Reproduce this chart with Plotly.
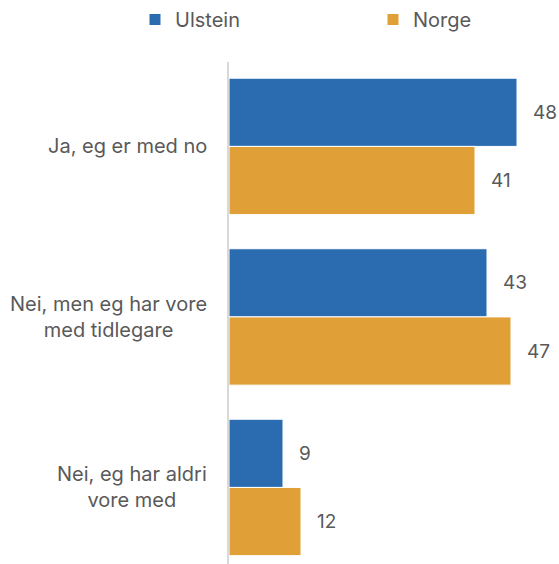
import plotly.graph_objects as go

categories = ["Ja, eg er med no", "Nei, men eg har vore<br>med tidlegare", "Nei, eg har aldri<br>vore med"]
ulstein = [48, 43, 9]
norge = [41, 47, 12]

BLUE = "#2B6CB1"
ORANGE = "#E0A037"
TEXT = "#595959"
FONT = "Inter, Roboto, sans-serif"

fig = go.Figure()
fig.add_trace(go.Bar(y=categories, x=ulstein, name="Ulstein", orientation="h",
                     legend="legend",
                     marker=dict(color=BLUE, line=dict(color="white", width=1))))
fig.add_trace(go.Bar(y=categories, x=norge, name="Norge", orientation="h",
                     legend="legend2",
                     marker=dict(color=ORANGE, line=dict(color="white", width=1))))

# value labels to the right of each bar
for vals, off in ((ulstein, -0.2), (norge, 0.2)):
    for i, v in enumerate(vals):
        fig.add_annotation(x=v, y=i + off, xref="x", yref="y", text=str(v),
                           showarrow=False, xanchor="left", xshift=14,
                           font=dict(size=19, color=TEXT, family=FONT))

# category labels, centred lines, right edge near the axis
for i, c in enumerate(categories):
    fig.add_annotation(x=0, y=i, xref="x", yref="y", text=c, showarrow=False,
                       xanchor="right", align="center", xshift=-20,
                       font=dict(size=20, color=TEXT, family=FONT))

legend_style = dict(orientation="h", xref="container", yref="container",
                    y=1.0, xanchor="left", yanchor="top",
                    font=dict(size=20, color=TEXT, family=FONT),
                    itemclick=False, itemdoubleclick=False)

fig.update_layout(
    width=559, height=564,
    showlegend=True,
    margin=dict(l=229, r=0, t=62, b=0),
    plot_bgcolor="white", paper_bgcolor="white",
    barmode="group", bargap=0.2, bargroupgap=0,
    font=dict(family=FONT, size=18, color=TEXT),
    legend=dict(x=135 / 559, **legend_style),
    legend2=dict(x=373 / 559, **legend_style),
    xaxis=dict(range=[0, 55], showgrid=False, showticklabels=False, zeroline=False),
    yaxis=dict(type="category", range=[2.449, -0.495], showticklabels=False,
               showgrid=False, zeroline=False, showline=True,
               linecolor="#D9D9D9", linewidth=2),
)

fig.write_html("out.html")
